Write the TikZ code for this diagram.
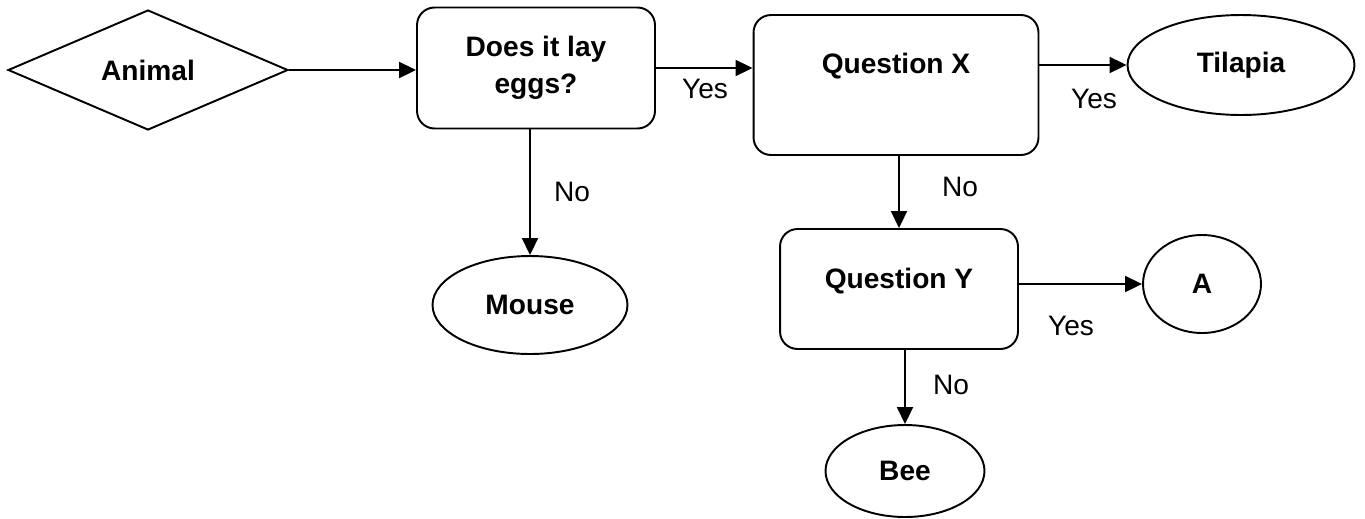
\documentclass[tikz,border=0pt]{standalone}
\usepackage{fontspec}
\setmainfont{Liberation Sans}
\usepackage{tikz}
\usetikzlibrary{arrows.meta}
\usetikzlibrary{shapes.geometric}

\begin{document}
\begin{tikzpicture}[x=0.02cm, y=-0.02cm, line width=1.1pt,
	font=\fontsize{16}{21}\selectfont,
	every node/.style={inner sep=0pt},
	qbox/.style={draw, rounded corners=0.35cm, font=\fontsize{16}{21}\selectfont\bfseries},
	leaf/.style={draw, ellipse, font=\fontsize{16}{21}\selectfont\bfseries},
	link/.style={-{Triangle[length=0.34cm, width=0.32cm]}}]
	\useasboundingbox (0,0) rectangle (1365,518);
	\node[draw, diamond, minimum width=5.6cm, minimum height=2.4cm, font=\fontsize{16}{21}\selectfont\bfseries] (animal) at (148,70) {Animal};
	\node[qbox, minimum width=4.76cm, minimum height=2.42cm, align=center] (eggs) at (536,68) {Does it lay\\eggs?};
	\node[qbox, minimum width=5.7cm, text height=1.16cm, text depth=1.64cm] (qx) at (896,85) {Question X};
	\node[qbox, minimum width=4.76cm, text height=1.18cm, text depth=1.22cm] (qy) at (899,289) {Question Y};
	\node[leaf, minimum width=4.54cm, minimum height=2cm] (tilapia) at (1241,65) {Tilapia};
	\node[leaf, minimum width=3.9cm, minimum height=1.96cm] (mouse) at (530,305) {Mouse};
	\node[leaf, minimum width=2.36cm, minimum height=1.96cm] (a) at (1202,284) {A};
	\node[leaf, minimum width=3.18cm, minimum height=1.84cm] (bee) at (905,471) {Bee};
	\draw[link] (animal.east) -- (animal.east -| eggs.west);
	\draw[link] (eggs.east) -- (eggs.east -| qx.west);
	\draw[link] (tilapia.west -| qx.east) -- (tilapia.west);
	\draw[link] (mouse.north |- eggs.south) -- (mouse.north);
	\draw[link] (qy.north |- qx.south) -- (qy.north);
	\draw[link] (a.west -| qy.east) -- (a.west);
	\draw[link] (bee.north |- qy.south) -- (bee.north);
	\node (yesX) at (705,89) {Yes};
	\node (yesT) at (1094,99) {Yes};
	\node (yesA) at (1071,326) {Yes};
	\node (noM) at (572,192) {No};
	\node (noY) at (960,187) {No};
	\node (noB) at (951,385) {No};
\end{tikzpicture}
\end{document}
